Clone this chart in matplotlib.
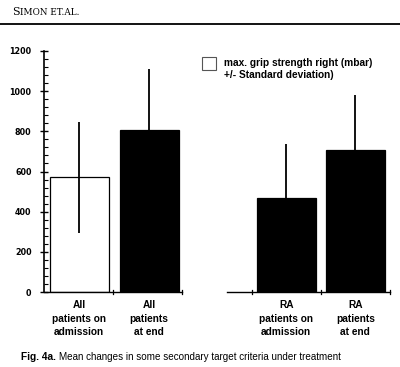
import matplotlib
matplotlib.use("Agg")
import matplotlib.pyplot as plt
from matplotlib.ticker import MultipleLocator

# grip strength data (mbar)
labels = ["All\npatients on\nadmission", "All\npatients\nat end",
          "RA\npatients on\nadmission", "RA\npatients\nat end"]
means = [571, 808, 468, 705]
sds = [277, 302, 267, 275]
positions = [0.51, 1.52, 3.5, 4.5]
colors = ["white", "black", "black", "black"]
yticks = [0, 200, 400, 600, 800, 1000, 1200]

narrow = ["Liberation Sans Narrow", "Liberation Sans", "DejaVu Sans"]

fig = plt.figure(figsize=(4.0, 3.67), dpi=100)
ax = fig.add_axes([44 / 400, 75 / 367, 346 / 400, 241 / 367])

ax.bar(positions, means, width=0.85, color=colors, edgecolor="black", linewidth=0.9, zorder=2)
ax.errorbar(positions, means, yerr=sds, fmt="none", ecolor="black", elinewidth=1.3, capsize=0, zorder=3)

ax.set_xlim(0, 5)
ax.set_ylim(0, 1200)
for s in ["top", "right", "bottom"]:
    ax.spines[s].set_visible(False)
ax.spines["left"].set_linewidth(1.2)

# broken x axis drawn by hand
ax.plot([0, 2], [0, 0], color="black", lw=1.0, clip_on=False, zorder=4)
ax.plot([2.65, 5], [0, 0], color="black", lw=1.0, clip_on=False, zorder=4)
for t in [1, 2, 3, 4, 5]:
    ax.plot([t, t], [-12, 12], color="black", lw=0.9, clip_on=False, zorder=4)

ax.set_xticks(positions)
ax.set_xticklabels(labels, family=narrow, fontsize=7.3, fontweight="bold", linespacing=1.4)
ax.tick_params(axis="x", length=0, pad=6)

ax.set_yticks(yticks)
ax.set_yticklabels([str(v) for v in yticks], fontsize=5.8, fontweight="bold")
ax.yaxis.set_minor_locator(MultipleLocator(40))
ax.tick_params(axis="y", which="major", direction="inout", length=6, width=1.0, pad=6)
ax.tick_params(axis="y", which="minor", direction="in", length=3, width=0.8)

# legend box and text
fig.patches.append(plt.Rectangle((202 / 400, 1 - 70 / 367), 14 / 400, 13 / 367,
                                 transform=fig.transFigure, facecolor="white",
                                 edgecolor="#555555", linewidth=0.8))
fig.text(224 / 400, 1 - 63 / 367, "max. grip strength right (mbar)", family=narrow,
         fontsize=7.3, fontweight="bold", va="center", ha="left")
fig.text(224 / 400, 1 - 75 / 367, "+/- Standard deviation)", family=narrow,
         fontsize=7.3, fontweight="bold", va="center", ha="left")

# running header in small caps
fig.text(12 / 400, 1 - 15 / 367, "S", family="DejaVu Serif", fontsize=8, va="baseline")
fig.text(19.5 / 400, 1 - 15 / 367, "IMON ET.AL.", family="DejaVu Serif", fontsize=6.4, va="baseline")
fig.add_artist(plt.Line2D([0, 1], [1 - 24 / 367, 1 - 24 / 367], transform=fig.transFigure,
                          color="black", lw=1.3))

# caption
fig.text(21 / 400, 1 - 357 / 367, "Fig. 4a.", family=narrow, fontsize=7.3,
         fontweight="bold", va="center", ha="left")
fig.text(59 / 400, 1 - 357 / 367, "Mean changes in some secondary target criteria under treatment",
         family=narrow, fontsize=7.1, va="center", ha="left")

fig.savefig("out.png", dpi=100)
